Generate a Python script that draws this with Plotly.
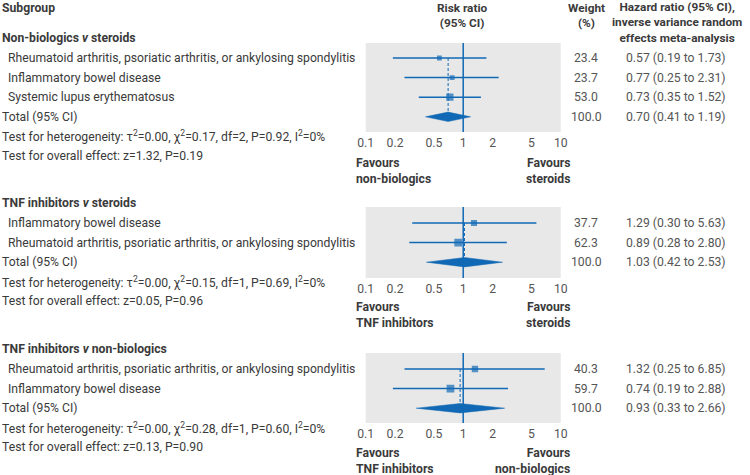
import plotly.graph_objects as go

# ---- data ----
p1_title = "Non-biologics <i>v</i> steroids"
p1_labels = ["Rheumatoid arthritis, psoriatic arthritis, or ankylosing spondylitis",
             "Inflammatory bowel disease", "Systemic lupus erythematosus"]
p1_weight = [23.4, 23.7, 53.0]
p1_est = [0.57, 0.77, 0.73]
p1_lo = [0.19, 0.25, 0.35]
p1_hi = [1.73, 2.31, 1.52]
p1_total = [0.70, 0.41, 1.19]
p1_het = "τ<sup>2</sup>=0.00, χ<sup>2</sup>=0.17, df=2, P=0.92, I<sup>2</sup>=0%"
p1_effect = "z=1.32, P=0.19"
p1_favours = ["non-biologics", "steroids"]

p2_title = "TNF inhibitors <i>v</i> steroids"
p2_labels = ["Inflammatory bowel disease",
             "Rheumatoid arthritis, psoriatic arthritis, or ankylosing spondylitis"]
p2_weight = [37.7, 62.3]
p2_est = [1.29, 0.89]
p2_lo = [0.30, 0.28]
p2_hi = [5.63, 2.80]
p2_total = [1.03, 0.42, 2.53]
p2_het = "τ<sup>2</sup>=0.00, χ<sup>2</sup>=0.15, df=1, P=0.69, I<sup>2</sup>=0%"
p2_effect = "z=0.05, P=0.96"
p2_favours = ["TNF inhibitors", "steroids"]

p3_title = "TNF inhibitors <i>v</i> non-biologics"
p3_labels = ["Rheumatoid arthritis, psoriatic arthritis, or ankylosing spondylitis",
             "Inflammatory bowel disease"]
p3_weight = [40.3, 59.7]
p3_est = [1.32, 0.74]
p3_lo = [0.25, 0.19]
p3_hi = [6.85, 2.88]
p3_total = [0.93, 0.33, 2.66]
p3_het = "τ<sup>2</sup>=0.00, χ<sup>2</sup>=0.28, df=1, P=0.60, I<sup>2</sup>=0%"
p3_effect = "z=0.13, P=0.90"
p3_favours = ["TNF inhibitors", "non-biologics"]

tick_vals = [0.1, 0.2, 0.5, 1, 2, 5, 10]
tick_text = ["0.1", "0.2", "0.5", "1", "2", "5", "10"]

panels = [
    dict(title=p1_title, labels=p1_labels, weight=p1_weight, est=p1_est, lo=p1_lo, hi=p1_hi,
         total=p1_total, het=p1_het, effect=p1_effect, favours=p1_favours,
         top=38, grey=(43, 132), fav=163),
    dict(title=p2_title, labels=p2_labels, weight=p2_weight, est=p2_est, lo=p2_lo, hi=p2_hi,
         total=p2_total, het=p2_het, effect=p2_effect, favours=p2_favours,
         top=203, grey=(207, 278), fav=307),
    dict(title=p3_title, labels=p3_labels, weight=p3_weight, est=p3_est, lo=p3_lo, hi=p3_hi,
         total=p3_total, het=p3_het, effect=p3_effect, favours=p3_favours,
         top=349, grey=(353, 423), fav=453),
]

# ---- style ----
W, H = 750, 475
FONT = "Roboto"
BLUE = "#1169b5"
TEXT = "#3a3a3a"
VAL = "#555555"
FS = 12.2
HS = 11.8          # header font size
ROW = 19.6
X0, X1 = 365, 564  # pixel extent of the grey panels
LX = -7            # left edge used for the subgroup column


def px(x):
    return x / W


def py(y):
    return 1 - y / H


fig = go.Figure()
ann = []


def text(x, y, s, anchor="left", bold=False, color=TEXT, size=FS):
    if bold:
        s = "<b>" + s + "</b>"
    ann.append(dict(x=px(x), y=py(y), xref="paper", yref="paper", text=s, showarrow=False,
                    xanchor=anchor, yanchor="middle", borderpad=0, align=anchor,
                    font=dict(family=FONT, size=size, color=color)))


# column headers
text(LX, 8, "Subgroup", bold=True)
text(464, 15.5, "Risk ratio<br>(95% CI)", anchor="center", bold=True, size=HS)
text(590, 15.5, "Weight<br>(%)", anchor="center", bold=True, size=HS)
text(683, 23, "Hazard ratio (95% CI),<br>inverse variance random<br>effects meta-analysis",
     anchor="center", bold=True, size=HS)

for i, p in enumerate(panels):
    n = len(p["labels"])
    first = p["top"] + 20
    xa = "x" if i == 0 else "x%d" % (i + 1)
    ya = "y" if i == 0 else "y%d" % (i + 1)
    gt, gb = p["grey"]

    # left column text
    text(LX, p["top"], p["title"], bold=True)
    for k, lab in enumerate(p["labels"]):
        text(LX + 6, first + k * ROW, lab)
        text(590, first + k * ROW, "%.1f" % p["weight"][k], anchor="center", color=VAL)
        text(682, first + k * ROW, "%.2f (%.2f to %.2f)" % (p["est"][k], p["lo"][k], p["hi"][k]),
             anchor="center", color=VAL)
    text(LX, first + n * ROW, "Total (95% CI)")
    text(590, first + n * ROW, "100.0", anchor="center", color=VAL)
    est, lo, hi = p["total"]
    text(682, first + n * ROW, "%.2f (%.2f to %.2f)" % (est, lo, hi), anchor="center", color=VAL)
    text(LX, first + (n + 1) * ROW, "Test for heterogeneity: " + p["het"])
    text(LX, first + (n + 2) * ROW, "Test for overall effect: " + p["effect"])

    # favours labels
    text(X0 - 11, p["fav"] + 7.5, "Favours<br>" + p["favours"][0], bold=True)
    text(X1 + 10, p["fav"] + 7.5, "Favours<br>" + p["favours"][1], anchor="right", bold=True)

    # confidence intervals
    cx, cy = [], []
    for k in range(n):
        cx += [p["lo"][k], p["hi"][k], None]
        cy += [k, k, None]
    fig.add_trace(go.Scatter(x=cx, y=cy, mode="lines", line=dict(color=BLUE, width=1.5),
                             xaxis=xa, yaxis=ya, hoverinfo="skip"))
    # dashed line at pooled estimate
    fig.add_trace(go.Scatter(x=[est, est], y=[0, n], mode="lines",
                             line=dict(color=BLUE, width=1, dash="3px,2px"),
                             xaxis=xa, yaxis=ya, hoverinfo="skip"))
    # squares sized by weight
    fig.add_trace(go.Scatter(x=p["est"], y=list(range(n)), mode="markers",
                             marker=dict(symbol="square", color=BLUE,
                                         size=[w ** 0.5 for w in p["weight"]], line=dict(width=0)),
                             xaxis=xa, yaxis=ya))
    # pooled diamond
    h = 0.24
    fig.add_trace(go.Scatter(x=[lo, est, hi, est, lo], y=[n, n - h, n, n + h, n], mode="lines",
                             fill="toself", fillcolor=BLUE, line=dict(color=BLUE, width=0.5),
                             xaxis=xa, yaxis=ya, hoverinfo="skip"))

    rng = [(gb - first) / ROW, (gt - first) / ROW]
    dom = [py(gb), py(gt)]
    xkey = "xaxis" if i == 0 else "xaxis%d" % (i + 1)
    ykey = "yaxis" if i == 0 else "yaxis%d" % (i + 1)
    fig.update_layout(**{
        xkey: dict(type="log", range=[-1, 1], domain=[px(X0), px(X1)], anchor=ya,
                   tickvals=tick_vals, ticktext=tick_text, showgrid=False, zeroline=False,
                   showline=False, ticks="", ticklabelstandoff=2,
                   tickfont=dict(family=FONT, size=FS, color=VAL), fixedrange=True),
        ykey: dict(range=rng, domain=dom, anchor=xa, visible=False, fixedrange=True),
    })
    fig.add_shape(type="line", x0=1, x1=1, xref=xa, y0=0, y1=1, yref=ya + " domain",
                  line=dict(color=BLUE, width=1.5), layer="above")

fig.update_layout(
    width=W, height=H, margin=dict(l=0, r=0, t=0, b=0),
    paper_bgcolor="white", plot_bgcolor="#e8e8e8",
    showlegend=False, annotations=ann,
    font=dict(family=FONT, color=TEXT),
)

# drop the browser's default body margin so the figure sits at the window origin
fig.write_html("out.html", config={"displayModeBar": False},
               post_script="document.body.style.margin='0';")
